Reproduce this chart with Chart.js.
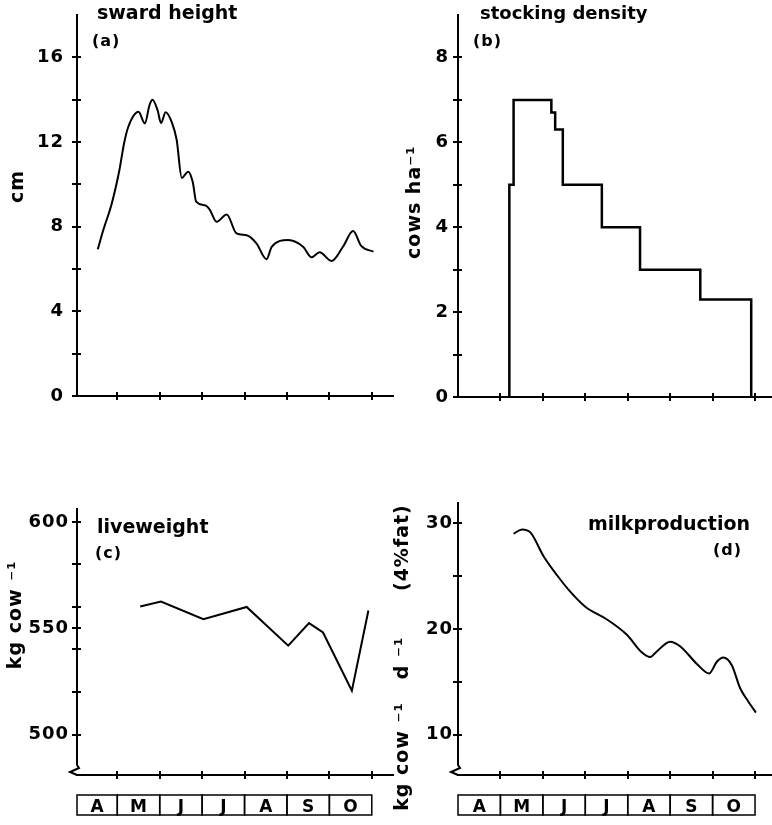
<!DOCTYPE html>
<html>
<head>
<meta charset="utf-8">
<script src="https://cdn.jsdelivr.net/npm/chart.js@4.4.0/dist/chart.umd.min.js"></script>
<style>
  html, body { margin: 0; padding: 0; background: #fff; width: 772px; height: 825px; overflow: hidden; }
  body { position: relative; }
  canvas { position: absolute; }
</style>
</head>
<body>
<canvas id="ca" width="400" height="420" style="left:0;top:0"></canvas>
<canvas id="cb" width="386" height="420" style="left:386px;top:0"></canvas>
<canvas id="cc" width="400" height="385" style="left:0;top:440px"></canvas>
<canvas id="cd" width="386" height="385" style="left:386px;top:440px"></canvas>
<script>
// ---------------- data (x = months since 1 April) ----------------
const months = ['A', 'M', 'J', 'J', 'A', 'S', 'O'];
const monthTicks = [1, 2, 3, 4, 5, 6, 7];

// (a) sward height, cm
const swardMonth  = [0.54, 0.67, 0.87, 1.05, 1.16, 1.26, 1.50, 1.65, 1.76, 1.83, 1.95, 2.03, 2.14, 2.29, 2.40, 2.52, 2.67, 2.78, 2.86, 3.08, 3.18, 3.34, 3.58, 3.81, 4.05, 4.28, 4.52, 4.64, 5.03, 5.38, 5.58, 5.77, 6.05, 6.32, 6.56, 6.75, 7.04];
const swardHeight = [6.93, 7.84, 9.10, 10.68, 11.94, 12.72, 13.43, 12.88, 13.75, 14.00, 13.50, 12.90, 13.40, 12.90, 12.10, 10.30, 10.60, 10.10, 9.18, 9.00, 8.80, 8.23, 8.58, 7.68, 7.59, 7.21, 6.46, 7.05, 7.37, 7.05, 6.55, 6.79, 6.38, 7.05, 7.79, 7.09, 6.82];
const swardTicks  = [0, 2, 4, 6, 8, 10, 12, 14, 16];
const swardLabels = [0, 4, 8, 12, 16];

// (b) stocking density, cows per ha (level holds between successive change dates)
const stockChange = [1.21, 1.31, 2.20, 2.29, 2.47, 3.39, 4.29, 5.71, 6.91];
const stockLevel  = [5, 7, 6.7, 6.3, 5, 4, 3, 2.3];
const stockTicks  = [0, 1, 2, 3, 4, 5, 6, 7, 8];
const stockLabels = [0, 2, 4, 6, 8];

// (c) liveweight, kg per cow
const liveMonth  = [1.54, 2.03, 3.03, 4.05, 5.03, 5.52, 5.85, 6.53, 6.92];
const liveWeight = [560.2, 562.5, 554.2, 560.0, 541.8, 552.4, 548.0, 520.6, 558.3];
const liveTicks  = [500, 520, 540, 550, 560, 580, 600];
const liveLabels = [500, 550, 600];

// (d) milk production, kg per cow per day (4% fat)
const milkMonth = [1.31, 1.51, 1.71, 2.02, 2.33, 2.65, 3.00, 3.51, 3.98, 4.33, 4.53, 4.69, 5.00, 5.24, 5.63, 5.92, 6.10, 6.25, 6.45, 6.65, 6.84, 7.02];
const milkYield = [29.0, 29.4, 29.1, 26.85, 25.1, 23.5, 22.1, 20.9, 19.45, 17.8, 17.35, 17.9, 18.8, 18.35, 16.7, 15.8, 16.9, 17.3, 16.6, 14.4, 13.15, 12.1];
const milkTicks  = [10, 15, 20, 25, 30];
const milkLabels = [10, 20, 30];

// ---------------- helpers ----------------
const FAMILY = '"DejaVu Sans", sans-serif';
const toPoints = (xs, ys) => xs.map((x, i) => ({ x: x, y: ys[i] }));

const stockPoints = [{ x: stockChange[0], y: 0 }];
stockLevel.forEach((lv, i) => {
  stockPoints.push({ x: stockChange[i], y: lv }, { x: stockChange[i + 1], y: lv });
});
stockPoints.push({ x: stockChange[stockChange.length - 1], y: 0 });

const decor = {
  id: 'decor',
  beforeDraw(chart, args, o) { chart.ctx.letterSpacing = o.spacing || '1px'; },
  afterDraw(chart, args, o) {
    const ctx = chart.ctx, ca = chart.chartArea, xs = chart.scales.x, ys = chart.scales.y;
    ctx.save();
    ctx.strokeStyle = '#000';
    ctx.fillStyle = '#000';
    ctx.lineWidth = 2;
    const seg = (x1, y1, x2, y2) => { ctx.beginPath(); ctx.moveTo(x1, y1); ctx.lineTo(x2, y2); ctx.stroke(); };
    ys.ticks.forEach(t => { const y = Math.round(ys.getPixelForValue(t.value)); seg(ca.left - 5, y, ca.left + 4, y); });
    xs.ticks.forEach(t => { const x = Math.round(xs.getPixelForValue(t.value)); seg(x, ca.bottom - 4, x, ca.bottom + 4); });
    if (o.axisBreak) {
      const x = ca.left, b = ca.bottom;
      ctx.beginPath();
      ctx.moveTo(x, ca.top);
      ctx.lineTo(x, b - 10);
      ctx.lineTo(x + 2, b - 7);
      ctx.lineTo(x - 7, b - 3);
      ctx.lineTo(x, b);
      ctx.stroke();
    }
    if (o.monthBoxes) {
      const top = o.monthBoxes.top, h = o.monthBoxes.height;
      ctx.lineWidth = 1.5;
      ctx.letterSpacing = '0px';
      ctx.font = 'bold 17px ' + FAMILY;
      ctx.textAlign = 'center';
      ctx.textBaseline = 'alphabetic';
      months.forEach((m, i) => {
        const x1 = xs.getPixelForValue(Math.max(i, xs.min));
        const x2 = xs.getPixelForValue(i + 1);
        ctx.strokeRect(x1, top, x2 - x1, h);
        ctx.fillText(m, (x1 + x2) / 2, top + h - 3);
      });
    }
    (o.labels || []).forEach(l => {
      ctx.font = 'bold ' + l.size + 'px ' + FAMILY;
      ctx.letterSpacing = l.spacing;
      ctx.textAlign = l.align;
      ctx.textBaseline = 'alphabetic';
      ctx.fillText(l.text, l.x, l.y);
    });
    ctx.restore();
  }
};

function panel(id, c) {
  return new Chart(document.getElementById(id), {
    type: 'line',
    data: {
      datasets: [{
        data: c.points,
        borderColor: '#000',
        borderWidth: c.lineWidth,
        pointRadius: 0,
        fill: false,
        tension: c.smooth ? 0.4 : 0,
        cubicInterpolationMode: c.smooth ? 'monotone' : 'default'
      }]
    },
    options: {
      responsive: false,
      animation: false,
      events: [],
      layout: { padding: c.padding, autoPadding: false },
      plugins: { legend: { display: false }, tooltip: { enabled: false }, decor: c.decor },
      scales: {
        x: {
          type: 'linear', min: c.xMin, max: c.xMax,
          afterBuildTicks: s => { s.ticks = monthTicks.map(v => ({ value: v })); },
          afterFit: s => { s.height = c.xHeight; s.paddingLeft = 0; s.paddingRight = 0; },
          grid: { display: false, drawTicks: false },
          border: { display: true, color: '#000', width: 2 },
          ticks: { display: false }
        },
        y: {
          min: c.yMin, max: c.yMax,
          afterBuildTicks: s => { s.ticks = c.yTicks.map(v => ({ value: v })); },
          afterFit: s => { s.width = c.yWidth; s.paddingTop = 0; s.paddingBottom = 0; },
          grid: { display: false, drawTicks: false },
          border: { display: !c.decor.axisBreak, color: '#000', width: 2 },
          ticks: {
            color: '#000', autoSkip: false, padding: c.tickPad,
            font: { family: FAMILY, size: 18, weight: 'bold' },
            callback: v => c.yLabels.includes(v) ? String(v) : ''
          },
          title: {
            display: true, text: c.yTitle, color: '#000',
            font: { family: FAMILY, size: 19, weight: 'bold' },
            padding: { top: c.titlePad, bottom: 0 }
          }
        }
      }
    },
    plugins: [decor]
  });
}

// (a)
panel('ca', {
  points: toPoints(swardMonth, swardHeight), lineWidth: 2, smooth: true,
  padding: { left: 0, top: 15, right: 7, bottom: 0 },
  xMin: 0.05, xMax: 7.5, xHeight: 24,
  yMin: 0, yMax: 18, yTicks: swardTicks, yLabels: swardLabels, yWidth: 77, tickPad: 13,
  yTitle: '     cm', titlePad: 7,
  decor: { labels: [
    { text: 'sward height', x: 97, y: 19, size: 19, spacing: '0px', align: 'left' },
    { text: '(a)', x: 92, y: 46, size: 16, spacing: '1px', align: 'left' }
  ] }
});

// (b)
panel('cb', {
  points: stockPoints, lineWidth: 2.5, smooth: false,
  padding: { left: 0, top: 15, right: 0, bottom: 0 },
  xMin: 0, xMax: 7.4, xHeight: 23,
  yMin: 0, yMax: 9, yTicks: stockTicks, yLabels: stockLabels, yWidth: 72, tickPad: 9,
  yTitle: ' cows ha⁻¹', titlePad: 18,
  decor: { labels: [
    { text: 'stocking density', x: 94, y: 19, size: 18, spacing: '0px', align: 'left' },
    { text: '(b)', x: 87, y: 46, size: 16, spacing: '1px', align: 'left' }
  ] }
});

// (c)
panel('cc', {
  points: toPoints(liveMonth, liveWeight), lineWidth: 2, smooth: false,
  padding: { left: 0, top: 68, right: 7, bottom: 0 },
  xMin: 0.05, xMax: 7.5, xHeight: 50,
  yMin: 481, yMax: 606.5, yTicks: liveTicks, yLabels: liveLabels, yWidth: 77, tickPad: 8,
  yTitle: '       kg cow ⁻¹', titlePad: 5,
  decor: { axisBreak: true, monthBoxes: { top: 355, height: 20 }, labels: [
    { text: 'liveweight', x: 97, y: 93, size: 19, spacing: '0px', align: 'left' },
    { text: '(c)', x: 95, y: 118, size: 16, spacing: '1px', align: 'left' }
  ] }
});

// (d)
panel('cd', {
  points: toPoints(milkMonth, milkYield), lineWidth: 2, smooth: true,
  padding: { left: 0, top: 62, right: 0, bottom: 0 },
  xMin: 0, xMax: 7.4, xHeight: 50,
  yMin: 6.2, yMax: 32, yTicks: milkTicks, yLabels: milkLabels, yWidth: 72, tickPad: 5,
  yTitle: 'kg cow ⁻¹   d ⁻¹      (4%fat)     ', titlePad: 6,
  decor: { axisBreak: true, monthBoxes: { top: 355, height: 20 }, labels: [
    { text: 'milkproduction', x: 364, y: 90, size: 19, spacing: '0px', align: 'right' },
    { text: '(d)', x: 356, y: 115, size: 16, spacing: '1px', align: 'right' }
  ] }
});
</script>
</body>
</html>
